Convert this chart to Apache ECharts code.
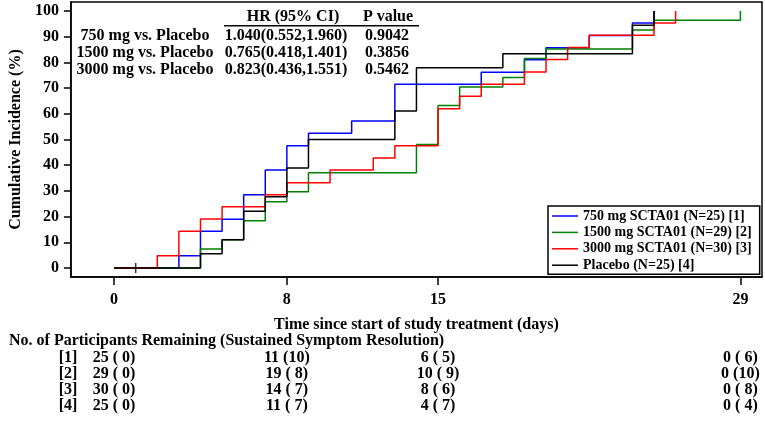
<!DOCTYPE html>
<html>
<head>
<meta charset="utf-8">
<script src="https://cdn.jsdelivr.net/npm/echarts@6/dist/echarts.min.js"></script>
<style>
html,body{margin:0;padding:0;background:#fff;}
#chart{width:765px;height:421px;}
</style>
</head>
<body>
<div id="chart"></div>
<script>
// ---------------- data ----------------
var seriesNames = ['750 mg SCTA01 (N=25) [1]', '1500 mg SCTA01 (N=29) [2]', '3000 mg SCTA01 (N=30) [3]', 'Placebo (N=25) [4]'];
var seriesColors = ['#0000ff', '#008000', '#ff0000', '#000000'];

var days750  = [0, 3, 4, 5, 6, 7, 8, 9, 11, 13, 17, 19, 20, 22, 24, 25];
var vals750  = [0, 4.8, 14.3, 19.0, 28.5, 38.1, 47.6, 52.4, 57.2, 71.5, 76.2, 81.0, 85.7, 90.5, 95.3, 100];

var days1500 = [0, 4, 5, 6, 7, 8, 9, 14, 15, 16, 18, 19, 20, 24, 25, 29];
var vals1500 = [0, 7.4, 11.0, 18.4, 25.8, 29.7, 37.1, 48.1, 63.2, 70.4, 74.1, 81.5, 85.2, 92.6, 96.4, 100];

var days3000 = [0, 2, 3, 4, 5, 7, 8, 10, 12, 13, 15, 16, 17, 19, 20, 21, 22, 25, 26];
var vals3000 = [0, 4.8, 14.3, 19.1, 23.8, 28.5, 33.2, 38.1, 42.8, 47.6, 62.0, 66.8, 71.5, 76.3, 81.1, 85.8, 90.6, 95.3, 100];

var daysPbo  = [0, 4, 5, 6, 7, 8, 9, 13, 14, 18, 24, 25];
var valsPbo  = [0, 5.5, 11.0, 22.1, 27.7, 38.9, 50.0, 61.1, 77.9, 83.4, 94.5, 100];

var censorDays = [1];      // Placebo censored observation
var censorVals = [0];

var xTicks = [0, 8, 15, 29];
var yTicks = [0, 10, 20, 30, 40, 50, 60, 70, 80, 90, 100];

var hrHeader = ['HR (95% CI)', 'P value'];
var comparisons = ['750 mg vs. Placebo', '1500 mg vs. Placebo', '3000 mg vs. Placebo'];
var hrTexts = ['1.040(0.552,1.960)', '0.765(0.418,1.401)', '0.823(0.436,1.551)'];
var pValues = ['0.9042', '0.3856', '0.5462'];

var riskTitle = 'No. of Participants Remaining (Sustained Symptom Resolution)';
var riskGroups = ['[1]', '[2]', '[3]', '[4]'];
var riskTimes = [0, 8, 15, 29];
var remaining = [[25, 11, 6, 0], [29, 19, 10, 0], [30, 14, 8, 0], [25, 11, 4, 0]];
var resolved  = [[0, 10, 5, 6], [0, 8, 9, 10], [0, 7, 6, 8], [0, 7, 7, 4]];

// ---------------- chart ----------------
var FONT = '"Liberation Serif", "Times New Roman", serif';
function zip(a, b) { return a.map(function (d, i) { return [d, b[i]]; }); }
var allDays = [days750, days1500, days3000, daysPbo];
var allVals = [vals750, vals1500, vals3000, valsPbo];

var chart = echarts.init(document.getElementById('chart'), null, {renderer: 'canvas'});

var series = seriesNames.map(function (name, i) {
  return {
    name: name,
    type: 'line',
    step: 'end',
    data: zip(allDays[i], allVals[i]),
    showSymbol: false,
    symbol: 'none',
    lineStyle: {color: seriesColors[i], width: 1.5},
    itemStyle: {color: seriesColors[i]},
    z: 2 + i
  };
});
series.push({
  name: 'censor',
  type: 'scatter',
  data: zip(censorDays, censorVals),
  symbol: 'rect',
  symbolSize: [1.5, 10],
  itemStyle: {color: '#000'},
  z: 10
});

var labelStyle = {fontFamily: FONT, fontWeight: 'bold', fontSize: 16, color: '#000'};

chart.setOption({
  animation: false,
  backgroundColor: '#fff',
  grid: {left: 67, right: 3, top: 2, bottom: 144, show: true, borderColor: '#000', borderWidth: 1.5, containLabel: false},
  legend: {
    data: seriesNames,
    orient: 'vertical',
    left: 548,
    top: 206,
    icon: 'rect',
    itemWidth: 26,
    itemHeight: 1.5,
    itemGap: 2.4,
    padding: [3, 8, 2, 4],
    borderColor: '#000',
    borderWidth: 1.5,
    backgroundColor: '#fff',
    textStyle: {fontFamily: FONT, fontWeight: 'bold', fontSize: 14, color: '#000', padding: [0, 0, 0, 0]},
    selectedMode: false
  },
  xAxis: {
    type: 'value',
    min: -2,
    max: 30,
    name: 'Time since start of study treatment (days)',
    nameLocation: 'middle',
    nameGap: 40,
    nameTextStyle: labelStyle,
    axisLine: {show: true, onZero: false, lineStyle: {color: '#000', width: 1.5}},
    axisTick: {show: true, length: 8, customValues: xTicks, lineStyle: {color: '#000', width: 1.5}},
    axisLabel: Object.assign({customValues: xTicks, margin: 15}, labelStyle),
    splitLine: {show: false}
  },
  yAxis: {
    type: 'value',
    min: -3.5,
    max: 103.5,
    name: 'Cumulative Incidence (%)',
    nameLocation: 'middle',
    nameGap: 44,
    nameTextStyle: labelStyle,
    axisLine: {show: true, onZero: false, lineStyle: {color: '#000', width: 1.5}},
    axisTick: {show: true, length: 7, customValues: yTicks, lineStyle: {color: '#000', width: 1.5}},
    axisLabel: Object.assign({customValues: yTicks, margin: 12}, labelStyle),
    splitLine: {show: false}
  },
  series: series
});

// ---------------- annotations (HR table & at-risk table) ----------------
var g = [];
function txt(x, y, s, align, size) {
  return {type: 'text', x: x, y: y, z: 20,
    style: {text: s, fill: '#000', align: align || 'center', verticalAlign: 'middle',
      font: 'bold ' + (size || 16) + 'px ' + FONT}};
}
g.push(txt(293, 17.3, hrHeader[0]));
g.push(txt(388, 17.3, hrHeader[1]));
g.push({type: 'line', z: 20, shape: {x1: 224, y1: 25.7, x2: 419, y2: 25.7}, style: {stroke: '#000', lineWidth: 1.5}});
comparisons.forEach(function (c, i) {
  var y = 35.7 + i * 17.3;
  g.push(txt(145, y, c));
  g.push(txt(286, y, hrTexts[i]));
  g.push(txt(387, y, pValues[i]));
});

g.push(txt(9, 341, riskTitle, 'left'));
var xs = riskTimes.map(function (t) { return chart.convertToPixel({xAxisIndex: 0}, t); });
riskGroups.forEach(function (lab, r) {
  var y = 358 + r * 16;
  g.push(txt(68, y, lab));
  riskTimes.forEach(function (t, c) {
    var e = resolved[r][c];
    var s = remaining[r][c] + ' (' + (e < 10 ? ' ' + e : '' + e) + ')';
    g.push(txt(xs[c], y, s));
  });
});
chart.setOption({graphic: g});
</script>
</body>
</html>
